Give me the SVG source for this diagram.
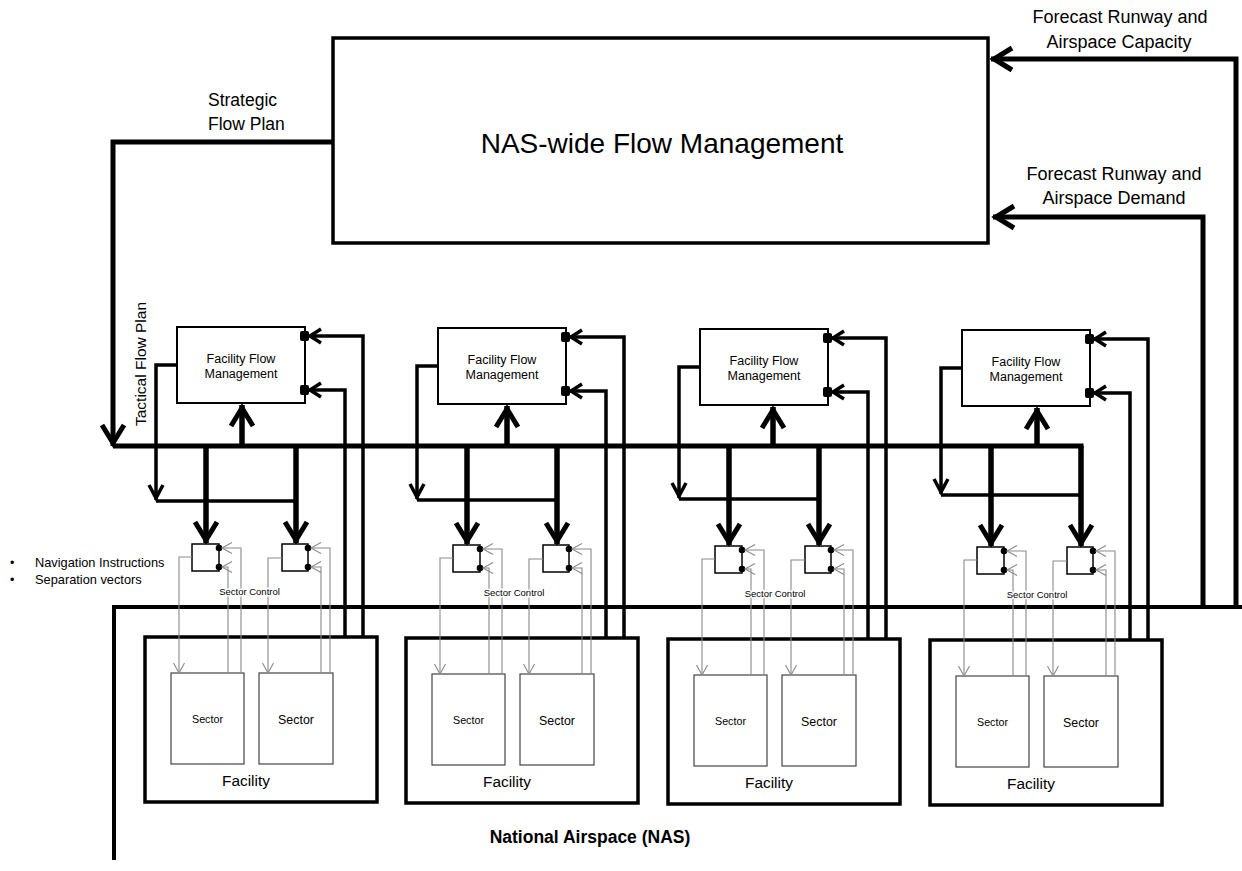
<svg xmlns="http://www.w3.org/2000/svg" width="1242" height="871" viewBox="0 0 1242 871">
<style>
text{font-family:"Liberation Sans",Arial,sans-serif;fill:#000}
.box{fill:#fff;stroke:#000}
.nas{stroke-width:3.5}
.ffm{stroke-width:2}
.sc{stroke-width:1.5}
.sec{stroke:#444;stroke-width:1.2}
.fac{stroke-width:3.5}
.dot{fill:#000}
.thick{fill:none;stroke:#000;stroke-width:5;stroke-linejoin:miter}
.tk{fill:none;stroke:#000;stroke-width:5.5}
.med{fill:none;stroke:#000;stroke-width:3.5}
.fb{fill:none;stroke:#000;stroke-width:3.5}
.gray{fill:none;stroke:#8a8a8a;stroke-width:1.1}
.mid{text-anchor:middle}
.lbl{paint-order:stroke;stroke:#fff;stroke-width:3}
</style>
<defs>
<marker id="ahT" viewBox="-30 -20 40 40" markerWidth="40" markerHeight="40" refX="0" refY="0" orient="auto" markerUnits="userSpaceOnUse" overflow="visible"><path d="M-21,-11 L-3,0 L-21,11" fill="none" stroke="#000" stroke-width="5"/></marker>
<marker id="ahM" viewBox="-20 -10 25 20" markerWidth="25" markerHeight="20" refX="0" refY="0" orient="auto" markerUnits="userSpaceOnUse" overflow="visible"><path d="M-15,-7 L-2,0 L-15,7" fill="none" stroke="#000" stroke-width="3.5"/></marker>
<marker id="ahD" viewBox="-20 -10 25 20" markerWidth="25" markerHeight="20" refX="0" refY="0" orient="auto" markerUnits="userSpaceOnUse" overflow="visible"><path d="M-12,-7 L-1,0 L-12,7" fill="none" stroke="#000" stroke-width="3.5"/></marker>
<marker id="ahG" viewBox="-12 -8 14 16" markerWidth="14" markerHeight="16" refX="0" refY="0" orient="auto-start-reverse" markerUnits="userSpaceOnUse" overflow="visible"><path d="M-10,-5.5 L0,0 L-10,5.5" fill="none" stroke="#8a8a8a" stroke-width="1.1"/></marker>
</defs>
<rect width="1242" height="871" fill="#fff"/>

<g id="nas-flow-management">
<rect class="box nas" x="333" y="38" width="655" height="205"/>
<text class="mid" x="662" y="153" font-size="28">NAS-wide Flow Management</text>
</g>

<!-- Facility 1 -->
<g id="ffm-1"><rect class="box ffm" x="177" y="327" width="128" height="76"/><text class="mid" x="241" y="363" font-size="12.5">Facility Flow</text><text class="mid" x="241" y="378" font-size="12.5">Management</text><rect class="dot" x="300" y="331" width="9" height="10" rx="2"/><rect class="dot" x="300" y="385" width="9" height="10" rx="2"/></g>
<g id="facility-1"><rect class="box fac" x="145" y="637" width="232" height="165"/><text class="mid" x="246" y="786" font-size="15.4">Facility</text></g>
<g id="sector-1a"><rect class="box sec" x="171" y="673" width="73" height="91"/><text class="mid" x="207.5" y="723" font-size="10.7">Sector</text></g>
<g id="sector-1b"><rect class="box sec" x="259" y="673" width="74" height="91"/><text class="mid" x="296" y="724" font-size="12.4">Sector</text></g>
<g id="sc-1a"><rect class="box sc" x="192" y="544" width="27" height="27"/><circle class="dot" cx="219" cy="548" r="3.3"/><circle class="dot" cx="219" cy="567" r="3.3"/></g>
<g id="sc-1b"><rect class="box sc" x="282" y="544" width="26" height="27"/><circle class="dot" cx="308" cy="548" r="3.3"/><circle class="dot" cx="308" cy="567" r="3.3"/></g>

<!-- Facility 2 -->
<g id="ffm-2" transform="translate(261,1)"><rect class="box ffm" x="177" y="327" width="128" height="76"/><text class="mid" x="241" y="363" font-size="12.5">Facility Flow</text><text class="mid" x="241" y="378" font-size="12.5">Management</text><rect class="dot" x="300" y="331" width="9" height="10" rx="2"/><rect class="dot" x="300" y="385" width="9" height="10" rx="2"/></g>
<g id="facility-2" transform="translate(261,1)"><rect class="box fac" x="145" y="637" width="232" height="165"/><text class="mid" x="246" y="786" font-size="15.4">Facility</text></g>
<g id="sector-2a" transform="translate(261,1)"><rect class="box sec" x="171" y="673" width="73" height="91"/><text class="mid" x="207.5" y="723" font-size="10.7">Sector</text></g>
<g id="sector-2b" transform="translate(261,1)"><rect class="box sec" x="259" y="673" width="74" height="91"/><text class="mid" x="296" y="724" font-size="12.4">Sector</text></g>
<g id="sc-2a" transform="translate(261,1)"><rect class="box sc" x="192" y="544" width="27" height="27"/><circle class="dot" cx="219" cy="548" r="3.3"/><circle class="dot" cx="219" cy="567" r="3.3"/></g>
<g id="sc-2b" transform="translate(261,1)"><rect class="box sc" x="282" y="544" width="26" height="27"/><circle class="dot" cx="308" cy="548" r="3.3"/><circle class="dot" cx="308" cy="567" r="3.3"/></g>

<!-- Facility 3 -->
<g id="ffm-3" transform="translate(523,2)"><rect class="box ffm" x="177" y="327" width="128" height="76"/><text class="mid" x="241" y="363" font-size="12.5">Facility Flow</text><text class="mid" x="241" y="378" font-size="12.5">Management</text><rect class="dot" x="300" y="331" width="9" height="10" rx="2"/><rect class="dot" x="300" y="385" width="9" height="10" rx="2"/></g>
<g id="facility-3" transform="translate(523,2)"><rect class="box fac" x="145" y="637" width="232" height="165"/><text class="mid" x="246" y="786" font-size="15.4">Facility</text></g>
<g id="sector-3a" transform="translate(523,2)"><rect class="box sec" x="171" y="673" width="73" height="91"/><text class="mid" x="207.5" y="723" font-size="10.7">Sector</text></g>
<g id="sector-3b" transform="translate(523,2)"><rect class="box sec" x="259" y="673" width="74" height="91"/><text class="mid" x="296" y="724" font-size="12.4">Sector</text></g>
<g id="sc-3a" transform="translate(523,2)"><rect class="box sc" x="192" y="544" width="27" height="27"/><circle class="dot" cx="219" cy="548" r="3.3"/><circle class="dot" cx="219" cy="567" r="3.3"/></g>
<g id="sc-3b" transform="translate(523,2)"><rect class="box sc" x="282" y="544" width="26" height="27"/><circle class="dot" cx="308" cy="548" r="3.3"/><circle class="dot" cx="308" cy="567" r="3.3"/></g>

<!-- Facility 4 -->
<g id="ffm-4" transform="translate(785,3)"><rect class="box ffm" x="177" y="327" width="128" height="76"/><text class="mid" x="241" y="363" font-size="12.5">Facility Flow</text><text class="mid" x="241" y="378" font-size="12.5">Management</text><rect class="dot" x="300" y="331" width="9" height="10" rx="2"/><rect class="dot" x="300" y="385" width="9" height="10" rx="2"/></g>
<g id="facility-4" transform="translate(785,3)"><rect class="box fac" x="145" y="637" width="232" height="165"/><text class="mid" x="246" y="786" font-size="15.4">Facility</text></g>
<g id="sector-4a" transform="translate(785,3)"><rect class="box sec" x="171" y="673" width="73" height="91"/><text class="mid" x="207.5" y="723" font-size="10.7">Sector</text></g>
<g id="sector-4b" transform="translate(785,3)"><rect class="box sec" x="259" y="673" width="74" height="91"/><text class="mid" x="296" y="724" font-size="12.4">Sector</text></g>
<g id="sc-4a" transform="translate(785,3)"><rect class="box sc" x="192" y="544" width="27" height="27"/><circle class="dot" cx="219" cy="548" r="3.3"/><circle class="dot" cx="219" cy="567" r="3.3"/></g>
<g id="sc-4b" transform="translate(785,3)"><rect class="box sc" x="282" y="544" width="26" height="27"/><circle class="dot" cx="308" cy="548" r="3.3"/><circle class="dot" cx="308" cy="567" r="3.3"/></g>

<g id="connectors">
<path class="thick" d="M333,142 H113 V446" marker-end="url(#ahT)"/>
<path class="thick" d="M113,446 H1083.5"/>
<path class="thick" d="M1242,607 H114 V860" style="stroke-width:4"/>
<path class="thick" d="M1236,609 V59 H991" marker-end="url(#ahT)"/>
<path class="thick" d="M1203,609 V217 H993" marker-end="url(#ahT)"/>

<g id="conn-1">
<path class="tk" d="M242,447 V405" marker-end="url(#ahT)"/>
<path class="tk" d="M206,446 V543" marker-end="url(#ahT)"/>
<path class="tk" d="M296,446 V543" marker-end="url(#ahT)"/>
<path class="med" d="M177,365 H156 V500" marker-end="url(#ahM)"/>
<path class="med" d="M156,501 H296"/>
<path class="fb" d="M345,637 V390 H309" marker-end="url(#ahD)"/>
<path class="fb" d="M363,637 V336 H309" marker-end="url(#ahD)"/>
<path class="gray" d="M222,548 H241 V673" marker-start="url(#ahG)"/>
<path class="gray" d="M222,567 H228 V673" marker-start="url(#ahG)"/>
<path class="gray" d="M192,557 H179 V673" marker-end="url(#ahG)"/>
<path class="gray" d="M311,548 H330 V673" marker-start="url(#ahG)"/>
<path class="gray" d="M311,567 H321 V673" marker-start="url(#ahG)"/>
<path class="gray" d="M282,558 H268 V673" marker-end="url(#ahG)"/>
</g>
<g id="conn-2" transform="translate(261,1)">
<path class="tk" d="M246,446 V405" marker-end="url(#ahT)"/>
<path class="tk" d="M206,445 V543" marker-end="url(#ahT)"/>
<path class="tk" d="M296,445 V543" marker-end="url(#ahT)"/>
<path class="med" d="M177,365 H156 V498" marker-end="url(#ahM)"/>
<path class="med" d="M156,499 H296"/>
<path class="fb" d="M345,637 V390 H309" marker-end="url(#ahD)"/>
<path class="fb" d="M363,637 V336 H309" marker-end="url(#ahD)"/>
<path class="gray" d="M222,548 H241 V673" marker-start="url(#ahG)"/>
<path class="gray" d="M222,567 H228 V673" marker-start="url(#ahG)"/>
<path class="gray" d="M192,557 H179 V673" marker-end="url(#ahG)"/>
<path class="gray" d="M311,548 H330 V673" marker-start="url(#ahG)"/>
<path class="gray" d="M311,567 H321 V673" marker-start="url(#ahG)"/>
<path class="gray" d="M282,558 H268 V673" marker-end="url(#ahG)"/>
</g>
<g id="conn-3" transform="translate(523,2)">
<path class="tk" d="M250,445 V405" marker-end="url(#ahT)"/>
<path class="tk" d="M206,444 V543" marker-end="url(#ahT)"/>
<path class="tk" d="M296,444 V543" marker-end="url(#ahT)"/>
<path class="med" d="M177,365 H156 V496" marker-end="url(#ahM)"/>
<path class="med" d="M156,497 H296"/>
<path class="fb" d="M345,637 V390 H309" marker-end="url(#ahD)"/>
<path class="fb" d="M363,637 V336 H309" marker-end="url(#ahD)"/>
<path class="gray" d="M222,548 H241 V673" marker-start="url(#ahG)"/>
<path class="gray" d="M222,567 H228 V673" marker-start="url(#ahG)"/>
<path class="gray" d="M192,557 H179 V673" marker-end="url(#ahG)"/>
<path class="gray" d="M311,548 H330 V673" marker-start="url(#ahG)"/>
<path class="gray" d="M311,567 H321 V673" marker-start="url(#ahG)"/>
<path class="gray" d="M282,558 H268 V673" marker-end="url(#ahG)"/>
</g>
<g id="conn-4" transform="translate(785,3)">
<path class="tk" d="M252,444 V405" marker-end="url(#ahT)"/>
<path class="tk" d="M206,443 V543" marker-end="url(#ahT)"/>
<path class="tk" d="M296,443 V543" marker-end="url(#ahT)"/>
<path class="med" d="M177,365 H156 V491" marker-end="url(#ahM)"/>
<path class="med" d="M156,492 H296"/>
<path class="fb" d="M345,637 V390 H309" marker-end="url(#ahD)"/>
<path class="fb" d="M363,637 V336 H309" marker-end="url(#ahD)"/>
<path class="gray" d="M222,548 H241 V673" marker-start="url(#ahG)"/>
<path class="gray" d="M222,567 H228 V673" marker-start="url(#ahG)"/>
<path class="gray" d="M192,557 H179 V673" marker-end="url(#ahG)"/>
<path class="gray" d="M311,548 H330 V673" marker-start="url(#ahG)"/>
<path class="gray" d="M311,567 H321 V673" marker-start="url(#ahG)"/>
<path class="gray" d="M282,558 H268 V673" marker-end="url(#ahG)"/>
</g>
</g>

<g id="labels">
<text x="208" y="106" font-size="17.5">Strategic</text>
<text x="208" y="130" font-size="17.5">Flow Plan</text>
<text transform="translate(146,364) rotate(-90)" class="mid" font-size="15.5">Tactical Flow Plan</text>
<text class="mid" x="1120" y="23" font-size="18">Forecast Runway and</text>
<text class="mid" x="1119" y="48" font-size="18">Airspace Capacity</text>
<text class="mid" x="1114" y="180" font-size="18">Forecast Runway and</text>
<text class="mid" x="1114" y="204" font-size="18">Airspace Demand</text>
<text x="10" y="567" font-size="12.5">•</text>
<text x="35" y="567" font-size="12.8">Navigation Instructions</text>
<text x="10" y="584" font-size="12.5">•</text>
<text x="35" y="584" font-size="12.8">Separation vectors</text>
<text class="mid lbl" x="249.5" y="595" font-size="9.5">Sector Control</text>
<text class="mid lbl" x="514" y="596" font-size="9.5">Sector Control</text>
<text class="mid lbl" x="775" y="597" font-size="9.5">Sector Control</text>
<text class="mid lbl" x="1037" y="598" font-size="9.5">Sector Control</text>
<text class="mid" x="590" y="843" font-size="17.5" font-weight="bold">National Airspace (NAS)</text>
</g>
</svg>
